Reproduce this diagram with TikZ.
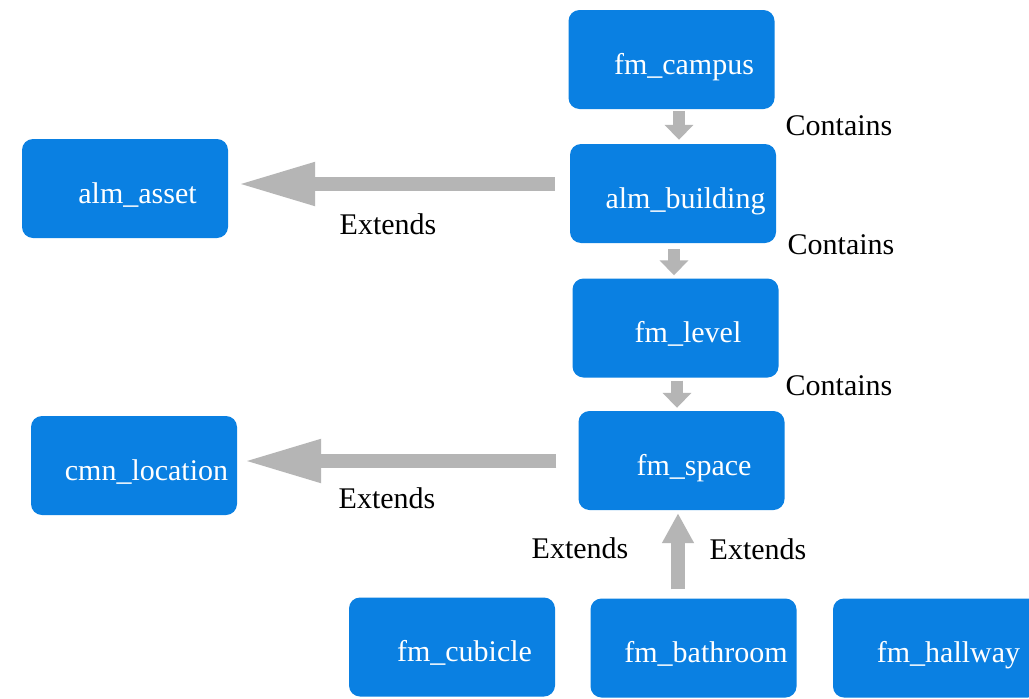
\documentclass[tikz,border=0pt]{standalone}
\usepackage{fontspec}
\setmainfont{Liberation Serif}
\usetikzlibrary{arrows.meta}
\definecolor{boxblue}{HTML}{0A80E2}
\definecolor{arrowgray}{HTML}{B5B5B5}
\begin{document}
\begin{tikzpicture}[x=1pt,y=-1pt,
  box/.style={fill=boxblue, draw=none, rounded corners=11pt, text=white,
    minimum width=206pt, minimum height=99pt, inner sep=0pt,
    text height=31pt, text depth=2pt,
    font=\fontsize{30}{34}\selectfont, execute at begin node={\hspace*{25pt}}},
  lbl/.style={font=\fontsize{30}{34}\selectfont, text=black, inner sep=0pt},
  contains/.style={draw=arrowgray, line width=12pt, -{Triangle[width=28pt,length=15pt]}},
  extends/.style={draw=arrowgray, line width=14pt, -{Triangle[width=40pt,length=78pt]}},
  extendsv/.style={draw=arrowgray, line width=14pt, -{Triangle[width=30pt,length=30pt]}}]
\useasboundingbox (0,0) rectangle (1029,699);
\fill[white] (0,0) rectangle (1029,699);

\node[box] (campus) at (671.5,59.5) {fm\_campus};
\node[box] (building) at (673,193.5) {alm\_building};
\node[box] (level) at (675.5,328) {fm\_level};
\node[box] (space) at (681.5,460.5) {fm\_space};
\node[box] (asset) at (125,188.5) {alm\_asset};
\node[box] (location) at (134,465.5) {cmn\_location};
\node[box] (cubicle) at (452,647) {fm\_cubicle};
\node[box] (bathroom) at (693.5,648) {fm\_bathroom};
\node[box] (hallway) at (936,648) {fm\_hallway};

\draw[contains, shorten <=2pt, shorten >=4pt] (campus.south -| 679,0) -- (building.north -| 679,0);
\draw[contains, shorten <=6pt, shorten >=3pt] (building.south -| 674,0) -- (level.north -| 674,0);
\draw[contains, shorten <=3pt, shorten >=3pt] (level.south -| 677,0) -- (space.north -| 677,0);

\draw[extends, shorten <=15pt, shorten >=9pt] (building.west |- 0,184) -- (asset.east |- 0,184);
\draw[extends, shorten <=22pt, shorten >=6pt] (space.west |- 0,461) -- (location.east |- 0,461);
\draw[extendsv, shorten <=9pt, shorten >=3pt] (bathroom.north -| 678,0) -- (space.south -| 678,0);

\node[lbl] (c1) at (839,126) {Contains};
\node[lbl] (c2) at (841,245) {Contains};
\node[lbl] (c3) at (839,386) {Contains};
\node[lbl] (e1) at (388,224) {Extends};
\node[lbl] (e2) at (387,498) {Extends};
\node[lbl] (e3) at (580,548) {Extends};
\node[lbl] (e4) at (758,549) {Extends};
\end{tikzpicture}
\end{document}
